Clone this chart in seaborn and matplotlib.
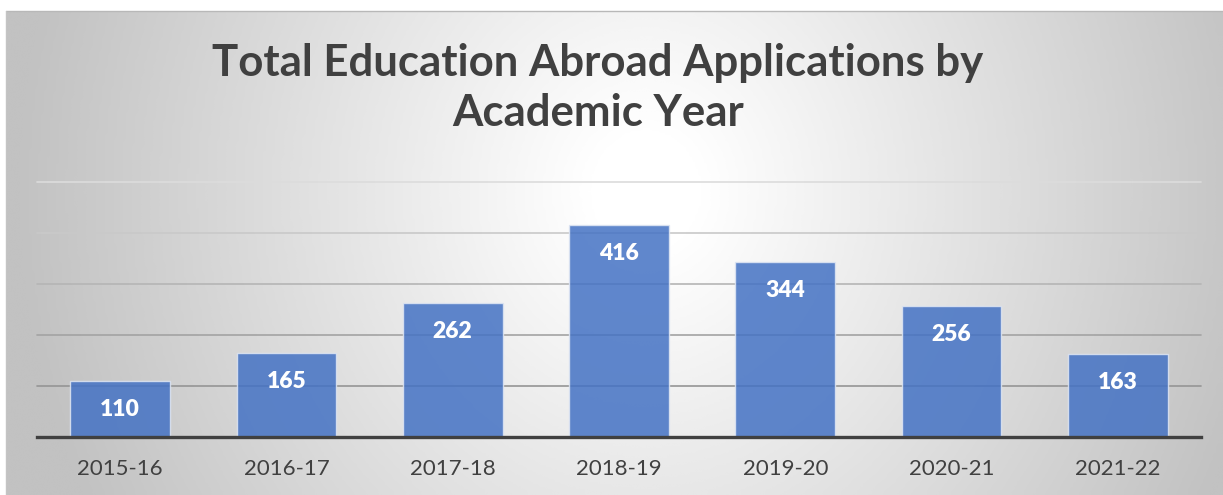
import numpy as np
import pandas as pd
import matplotlib.pyplot as plt
import seaborn as sns

# --- Data ---
years = ['2015-16', '2016-17', '2017-18', '2018-19', '2019-20', '2020-21', '2021-22']
applications = [110, 165, 262, 416, 344, 256, 163]
grid_levels = [100, 200, 300, 400, 500]

df = pd.DataFrame({'Year': years, 'Applications': applications})

sns.set_theme(style="white")
plt.rcParams['font.family'] = ['Lato', 'DejaVu Sans']

W, H = 1223, 495
fig = plt.figure(figsize=(W / 100, H / 100), dpi=100)
fig.patch.set_facecolor('white')

# Radial gradient panel behind the chart
bg = fig.add_axes([6 / W, 0, (W - 6) / W, (H - 11) / H], zorder=-2)
gx, gy = np.meshgrid(np.linspace(0, W - 6, 400), np.linspace(0, H - 11, 200))
r = np.sqrt(((gx - 640) / 640) ** 2 + ((gy - 180) / 700) ** 2)
shade = 1.0 - 0.24 * np.clip((r - 0.08) / 0.9, 0, 1)
bg.imshow(shade, cmap='gray', vmin=0, vmax=1, aspect='auto',
          extent=[0, 1, 0, 1], origin='upper', interpolation='bicubic')
bg.set_axis_off()
fig.add_artist(plt.Line2D([6 / W, 1], [(H - 11) / H] * 2, color='#b8b8b8', lw=1))
fig.add_artist(plt.Line2D([6 / W] * 2, [0, (H - 11) / H], color='#c4c4c4', lw=1))

# Main plot area
ax = fig.add_axes([37 / W, 58 / H, (1201 - 37) / W, 255 / H])
ax.set_facecolor('none')

grid_colors = ['#959595', '#a3a3a3', '#b5b5b5', '#c9c9c9', '#dcdcdc']
for lvl, c in zip(grid_levels, grid_colors):
    ax.axhline(lvl, color=c, lw=1.2, zorder=0, clip_on=False)

sns.barplot(data=df, x='Year', y='Applications', color='#4472C4', width=0.6,
            saturation=1, alpha=0.85, edgecolor='#dfe6f3', linewidth=1, ax=ax, zorder=2)

for i, v in enumerate(applications):
    ax.annotate(str(v), (i, v), xytext=(0, -20.5), textcoords='offset points',
                ha='center', va='center', color='white', fontsize=16.5,
                fontweight='heavy', zorder=3)

ax.set_ylim(0, 500)
ax.set_yticks([])
ax.set_xlabel('')
ax.set_ylabel('')
for s in ['top', 'right', 'left']:
    ax.spines[s].set_visible(False)
ax.spines['bottom'].set_color('#404040')
ax.spines['bottom'].set_linewidth(2.4)
ax.spines['bottom'].set_zorder(4)
ax.tick_params(axis='x', length=0, pad=16, labelsize=16, labelcolor='#404040')

fig.text(598 / W, 1 - 88 / H, 'Total Education Abroad Applications by\nAcademic Year',
         ha='center', va='center', fontsize=31.5, fontweight='bold', color='#404040',
         linespacing=1.3)

fig.savefig('out.png', dpi=100)
